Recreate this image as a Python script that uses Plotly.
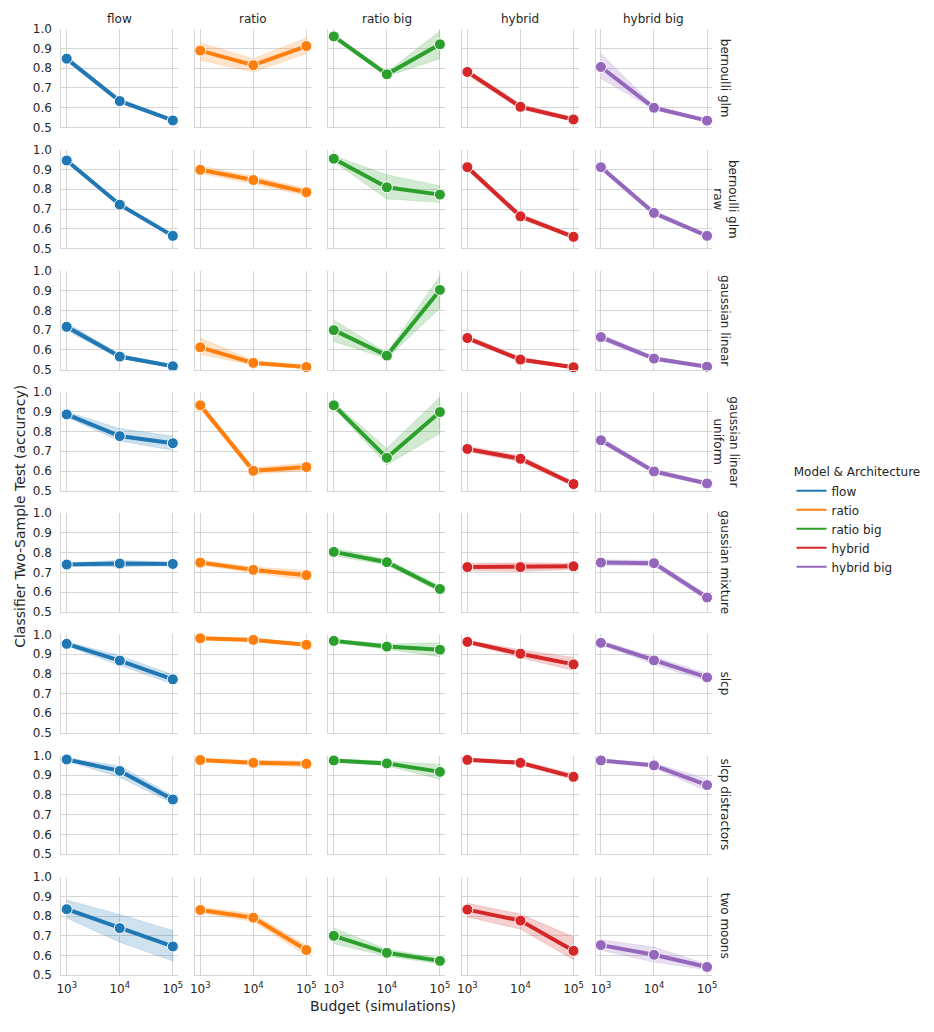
import plotly.graph_objects as go

# ****************************************************************************
# 01 - Datos
# ****************************************************************************

tareas = ["bernoulli glm", "bernoulli glm<br>raw", "gaussian linear",
          "gaussian linear<br>uniform", "gaussian mixture", "slcp",
          "slcp distractors", "two moons"]
modelos = ["flow", "ratio", "ratio big", "hybrid", "hybrid big"]
colores = ["#1f77b4", "#ff7f0e", "#2ca02c", "#d62728", "#9467bd"]
presupuesto = [1e3, 1e4, 1e5]
ticks_x = ["10<sup>3</sup>", "10<sup>4</sup>", "10<sup>5</sup>"]
ticks_y = [0.5, 0.6, 0.7, 0.8, 0.9, 1.0]

flow_media = [[0.848, 0.633, 0.535], [0.946, 0.722, 0.564], [0.717, 0.566, 0.517],
              [0.887, 0.777, 0.741], [0.740, 0.745, 0.743], [0.952, 0.867, 0.772],
              [0.980, 0.922, 0.777], [0.835, 0.739, 0.646]]
flow_inf = [[0.835, 0.622, 0.527], [0.937, 0.712, 0.556], [0.697, 0.556, 0.510],
            [0.873, 0.752, 0.705], [0.732, 0.728, 0.735], [0.942, 0.842, 0.748],
            [0.972, 0.890, 0.757], [0.790, 0.668, 0.572]]
flow_sup = [[0.860, 0.645, 0.543], [0.955, 0.732, 0.572], [0.737, 0.578, 0.524],
            [0.900, 0.815, 0.778], [0.748, 0.762, 0.751], [0.962, 0.892, 0.796],
            [0.988, 0.947, 0.797], [0.882, 0.808, 0.727]]

ratio_media = [[0.889, 0.815, 0.912], [0.899, 0.847, 0.785], [0.613, 0.534, 0.513],
               [0.933, 0.601, 0.620], [0.750, 0.713, 0.686], [0.980, 0.972, 0.947],
               [0.977, 0.963, 0.958], [0.831, 0.792, 0.628]]
ratio_inf = [[0.840, 0.781, 0.874], [0.880, 0.828, 0.766], [0.578, 0.524, 0.505],
             [0.915, 0.585, 0.602], [0.738, 0.698, 0.662], [0.972, 0.963, 0.938],
             [0.968, 0.950, 0.943], [0.816, 0.772, 0.600]]
ratio_sup = [[0.929, 0.848, 0.953], [0.918, 0.866, 0.804], [0.660, 0.546, 0.521],
             [0.950, 0.617, 0.640], [0.762, 0.728, 0.710], [0.988, 0.981, 0.956],
             [0.985, 0.976, 0.972], [0.846, 0.812, 0.651]]

ratio_big_media = [[0.961, 0.769, 0.921], [0.955, 0.810, 0.773], [0.700, 0.571, 0.904],
                   [0.933, 0.667, 0.899], [0.804, 0.752, 0.616], [0.967, 0.938, 0.922],
                   [0.975, 0.960, 0.917], [0.700, 0.614, 0.573]]
ratio_big_inf = [[0.950, 0.758, 0.848], [0.940, 0.751, 0.734], [0.643, 0.556, 0.811],
                 [0.918, 0.631, 0.790], [0.784, 0.738, 0.600], [0.958, 0.925, 0.887],
                 [0.968, 0.948, 0.880], [0.660, 0.596, 0.558]]
ratio_big_sup = [[0.972, 0.781, 0.988], [0.970, 0.874, 0.818], [0.752, 0.586, 0.976],
                 [0.948, 0.715, 0.975], [0.824, 0.766, 0.632], [0.976, 0.951, 0.958],
                 [0.982, 0.972, 0.955], [0.740, 0.632, 0.588]]

hybrid_media = [[0.781, 0.604, 0.540], [0.912, 0.663, 0.559], [0.660, 0.551, 0.512],
                [0.712, 0.662, 0.534], [0.727, 0.727, 0.731], [0.962, 0.902, 0.848],
                [0.978, 0.963, 0.892], [0.833, 0.777, 0.624]]
hybrid_inf = [[0.766, 0.592, 0.530], [0.898, 0.650, 0.549], [0.647, 0.540, 0.505],
              [0.698, 0.647, 0.522], [0.708, 0.705, 0.715], [0.954, 0.882, 0.817],
              [0.970, 0.953, 0.877], [0.795, 0.734, 0.579]]
hybrid_sup = [[0.796, 0.617, 0.550], [0.926, 0.676, 0.569], [0.673, 0.562, 0.519],
              [0.726, 0.677, 0.546], [0.746, 0.749, 0.747], [0.970, 0.922, 0.883],
              [0.986, 0.973, 0.907], [0.865, 0.810, 0.695]]

hybrid_big_media = [[0.806, 0.599, 0.534], [0.912, 0.680, 0.564], [0.665, 0.556, 0.515],
                    [0.756, 0.598, 0.537], [0.750, 0.747, 0.573], [0.957, 0.868, 0.782],
                    [0.975, 0.950, 0.850], [0.653, 0.604, 0.542]]
hybrid_big_inf = [[0.747, 0.590, 0.527], [0.900, 0.668, 0.556], [0.650, 0.546, 0.508],
                  [0.742, 0.586, 0.529], [0.736, 0.733, 0.558], [0.947, 0.848, 0.762],
                  [0.967, 0.938, 0.820], [0.627, 0.567, 0.528]]
hybrid_big_sup = [[0.874, 0.608, 0.541], [0.924, 0.692, 0.572], [0.680, 0.566, 0.522],
                  [0.770, 0.610, 0.545], [0.764, 0.761, 0.588], [0.967, 0.888, 0.802],
                  [0.983, 0.962, 0.880], [0.680, 0.643, 0.556]]

medias = [flow_media, ratio_media, ratio_big_media, hybrid_media, hybrid_big_media]
inferiores = [flow_inf, ratio_inf, ratio_big_inf, hybrid_inf, hybrid_big_inf]
superiores = [flow_sup, ratio_sup, ratio_big_sup, hybrid_sup, hybrid_big_sup]

# ****************************************************************************
# 02 - Figura
# ****************************************************************************

ANCHO, ALTO = 934, 1032
FUENTE = "DejaVu Sans"
GRIS_TEXTO = "#262626"
GRIS_GRID = "#d5d5d5"

# Geometría de la grilla en píxeles
x0, paso_x, ancho_panel = 57, 135, 118
y0, paso_y, alto_panel = 22, 122.8, 100


def rgba(hex_color, a):
    h = hex_color.lstrip("#")
    return f"rgba({int(h[0:2], 16)},{int(h[2:4], 16)},{int(h[4:6], 16)},{a})"


fig = go.Figure()
layout_ejes = {}
anotaciones = []

for r, tarea in enumerate(tareas):
    for c, modelo in enumerate(modelos):
        n = r * len(modelos) + c + 1
        sx = "" if n == 1 else str(n)
        xa, ya = "x" + sx, "y" + sx

        izq = x0 + c * paso_x
        arriba = y0 + r * paso_y
        layout_ejes["xaxis" + sx] = dict(
            domain=[izq / ANCHO, (izq + ancho_panel) / ANCHO],
            anchor=ya, type="log", range=[2.9, 5.1],
            tickvals=presupuesto, ticktext=ticks_x,
            showticklabels=(r == len(tareas) - 1),
            showgrid=True, gridcolor=GRIS_GRID, gridwidth=1,
            showline=True, linecolor=GRIS_GRID, linewidth=1.2,
            zeroline=False, ticks="", ticklabelstandoff=2,
            tickfont=dict(family=FUENTE, size=12, color=GRIS_TEXTO),
        )
        layout_ejes["yaxis" + sx] = dict(
            domain=[1 - (arriba + alto_panel) / ALTO, 1 - arriba / ALTO],
            anchor=xa, range=[0.5, 1.0], tickvals=ticks_y,
            ticktext=[f"{v:.1f}" for v in ticks_y],
            showticklabels=(c == 0),
            showgrid=True, gridcolor=GRIS_GRID, gridwidth=1,
            showline=True, linecolor=GRIS_GRID, linewidth=1.2,
            zeroline=False, ticks="", ticklabelstandoff=6,
            tickfont=dict(family=FUENTE, size=12, color=GRIS_TEXTO),
        )

        media = medias[c][r]
        inf = inferiores[c][r]
        sup = superiores[c][r]
        color = colores[c]

        # Banda de confianza
        fig.add_trace(go.Scatter(
            x=presupuesto + presupuesto[::-1], y=sup + inf[::-1],
            fill="toself", fillcolor=rgba(color, 0.22),
            line=dict(width=0.6, color=rgba(color, 0.25)),
            mode="lines", hoverinfo="skip", showlegend=False,
            xaxis=xa, yaxis=ya,
        ))
        # Línea con marcadores
        fig.add_trace(go.Scatter(
            x=presupuesto, y=media, mode="lines+markers",
            line=dict(color=color, width=4),
            marker=dict(size=11, color=color, line=dict(color="white", width=1)),
            cliponaxis=False, showlegend=False, name=modelo,
            xaxis=xa, yaxis=ya,
        ))

        if r == 0:
            anotaciones.append(dict(
                text=modelo, xref="paper", yref="paper",
                x=(izq + ancho_panel / 2) / ANCHO, y=1 - 12 / ALTO,
                showarrow=False, xanchor="center", yanchor="middle",
                font=dict(family=FUENTE, size=12, color=GRIS_TEXTO),
            ))

    anotaciones.append(dict(
        text=tarea, xref="paper", yref="paper",
        x=(x0 + 4 * paso_x + ancho_panel + 13) / ANCHO,
        y=1 - (y0 + r * paso_y + alto_panel / 2) / ALTO,
        showarrow=False, textangle=90, xanchor="center", yanchor="middle",
        font=dict(family=FUENTE, size=12, color=GRIS_TEXTO),
    ))

# Trazas solo para la leyenda
for modelo, color in zip(modelos, colores):
    fig.add_trace(go.Scatter(
        x=[None], y=[None], mode="lines", name=modelo,
        line=dict(color=color, width=2), xaxis="x", yaxis="y",
    ))

# Títulos de los ejes
anotaciones.append(dict(
    text="Budget (simulations)", xref="paper", yref="paper",
    x=382 / ANCHO, y=1 - 1013 / ALTO,
    showarrow=False, xanchor="center", yanchor="middle",
    font=dict(family=FUENTE, size=14, color=GRIS_TEXTO),
))
anotaciones.append(dict(
    text="Classifier Two-Sample Test (accuracy)", xref="paper", yref="paper",
    x=15 / ANCHO, y=0.5, textangle=-90,
    showarrow=False, xanchor="center", yanchor="middle",
    font=dict(family=FUENTE, size=14, color=GRIS_TEXTO),
))

fig.update_layout(
    width=ANCHO, height=ALTO,
    margin=dict(l=0, r=0, t=0, b=0),
    paper_bgcolor="white", plot_bgcolor="white",
    font=dict(family=FUENTE, color=GRIS_TEXTO),
    annotations=anotaciones,
    legend=dict(
        title=dict(text="Model & Architecture", side="top center",
                   font=dict(family=FUENTE, size=12, color=GRIS_TEXTO)),
        x=795 / ANCHO, y=1 - 460 / ALTO, xanchor="left", yanchor="top",
        font=dict(family=FUENTE, size=12, color=GRIS_TEXTO),
        bgcolor="rgba(0,0,0,0)", tracegroupgap=0, itemwidth=30,
    ),
    **layout_ejes,
)

# Sin margen del body para que la figura quede en (0, 0); sin barra de herramientas
fig.write_html("out.html", config={"displayModeBar": False},
               post_script="document.body.style.margin='0';")
